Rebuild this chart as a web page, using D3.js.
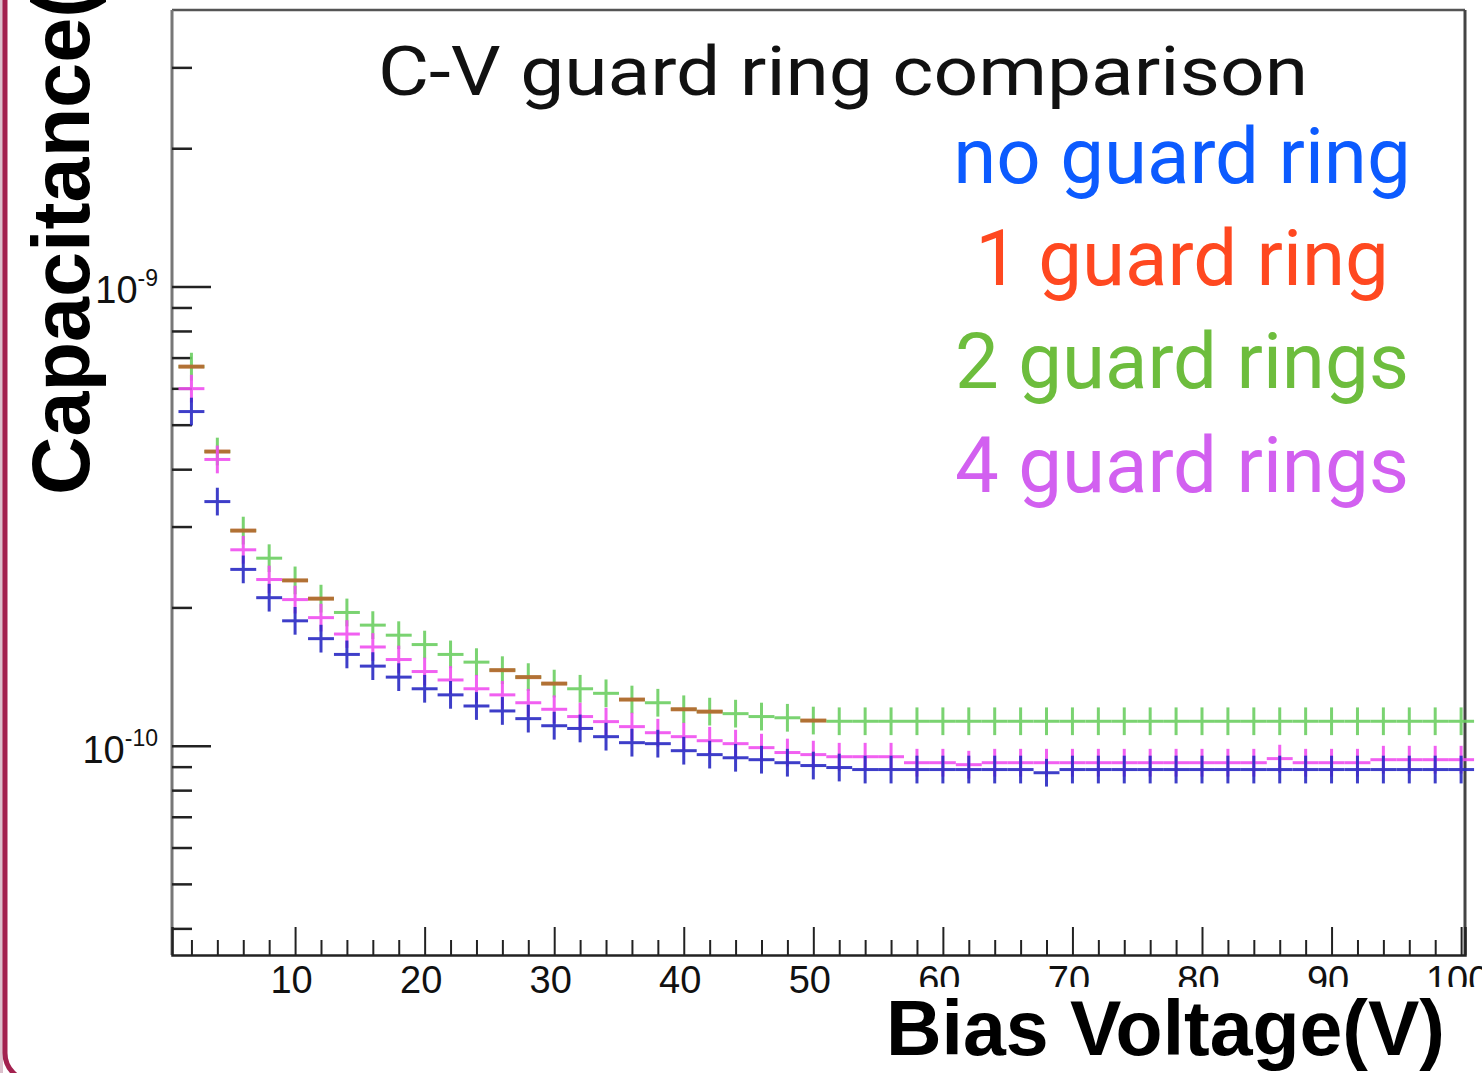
<!DOCTYPE html>
<html>
<head>
<meta charset="utf-8">
<script src="https://cdn.jsdelivr.net/npm/d3@7"></script>
<style>
body { margin: 0; background: #fff; overflow: hidden; }
svg { display: block; }
.root { font-family: "Liberation Sans", Arial, Helvetica, sans-serif; }
.slide { font-family: Roboto, "Noto Sans", sans-serif; }
</style>
</head>
<body>
<script>
// bias voltage of every measurement point (V)
var volts = [2,4,6,8,10,12,14,16,18,20,22,24,26,28,30,32,34,36,38,40,42,44,46,48,50,
             52,54,56,58,60,62,64,66,68,70,72,74,76,78,80,82,84,86,88,90,92,94,96,98,100];

// capacitance, in pF
var capNoRing = [534,340,242,210,187,171,158,149,141,133,129,122,119,114.5,110.5,109,104.6,101.5,101,97.5,95.6,94.1,93.2,91.8,90.5,
                 89.6,88.7,88.7,88.7,88.7,88.7,88.7,88.7,87.3,88.7,88.7,88.7,88.7,88.7,88.7,88.7,88.7,88.7,88.7,88.7,88.7,88.7,88.7,88.7,88.7];
var capTwoRings = [669,437,294,256,229,209,195,183,174,166,158,152,146,141,136.5,133,130,126,124,120,118.6,117.4,115.7,115,113.4,
                   113,113,113,113,113,113,113,113,113,113,113,113,113,113,113,113,113,113,113,113,113,113,113,113,113];
var capFourRings = [599,420,267,230,208,190,175,164,154,145,139,133,129,124,120,115.7,112.8,110,106.7,104.6,102.5,101,99,96.6,95.6,
                    94.6,94.6,94.6,91.8,91.8,90.9,91.8,91.8,91.8,91.8,91.8,91.8,91.8,91.8,91.8,91.8,91.8,93.7,91.8,91.8,91.8,93.2,93.2,93.2,93.2];
// 1 guard ring: only the points that stand out from under the 2-ring series
var voltsOneRing = [2,4,6,10,12,26,28,30,36,40,42,50];
var capOneRing = [669,437,294,229,209,146,141,136.5,126,120,118.6,113.4];

var xMajor = [10,20,30,40,50,60,70,80,90,100];
var xMinor = [2,4,6,8,12,14,16,18,22,24,26,28,32,34,36,38,42,44,46,48,52,54,56,58,62,64,66,68,72,74,76,78,82,84,86,88,92,94,96,98];
var yMajor = [1e-10, 1e-9];
var yMajorLabels = ["-10", "-9"];
var yMinor = [4e-11,5e-11,6e-11,7e-11,8e-11,9e-11,2e-10,3e-10,4e-10,5e-10,6e-10,7e-10,8e-10,9e-10,2e-9,3e-9];

var legendNames = ["no guard ring", "1 guard ring", "2 guard rings", "4 guard rings"];
var legendColors = ["#0c5bff", "#ff4820", "#6dbd3d", "#d260f0"];

var W = 1482, H = 1073;
var frame = {left: 172, top: 10, right: 1465, bottom: 955};
var relErr = 0.072;

var svg = d3.select("body").append("svg")
    .attr("width", W)
    .attr("height", H);

svg.append("rect").attr("width", W).attr("height", H).attr("fill", "#fff");

var x = d3.scaleLinear().domain([0.5, 100.3]).range([frame.left, frame.right]);
var y = d3.scaleLog().domain([3.5e-11, 4.0e-9]).range([frame.bottom, frame.top]);

// slide border on the left
svg.append("rect").attr("x", 0).attr("y", 0).attr("width", 3).attr("height", H).attr("fill", "#dcc0cc");
svg.append("rect")
    .attr("x", 5).attr("y", -60).attr("width", 2000).attr("height", 1141)
    .attr("rx", 28).attr("ry", 28)
    .attr("fill", "none").attr("stroke", "#a3214f").attr("stroke-width", 5);

// frame
svg.append("line").attr("x1", frame.left).attr("x2", frame.right).attr("y1", frame.top).attr("y2", frame.top)
    .attr("stroke", "#555").attr("stroke-width", 2.5);
svg.append("line").attr("x1", frame.right).attr("x2", frame.right).attr("y1", frame.top).attr("y2", frame.bottom)
    .attr("stroke", "#444").attr("stroke-width", 3);
svg.append("line").attr("x1", frame.left).attr("x2", frame.left).attr("y1", frame.top).attr("y2", frame.bottom)
    .attr("stroke", "#777").attr("stroke-width", 3);

// x axis, ticks pointing up into the frame
var gxMinor = svg.append("g").attr("transform", "translate(0," + frame.bottom + ")")
    .call(d3.axisBottom(x).tickValues(xMinor).tickSize(-15).tickFormat(""));
var gx = svg.append("g").attr("class", "root").attr("transform", "translate(0," + frame.bottom + ")")
    .call(d3.axisBottom(x).tickValues(xMajor).tickSize(-28).tickPadding(11).tickFormat(d3.format("d")));
gxMinor.selectAll(".domain").remove();
gx.selectAll(".domain").attr("stroke", "#222").attr("stroke-width", 2.5);
svg.selectAll(".tick line").attr("stroke", "#222").attr("stroke-width", 2);
gx.selectAll(".tick text").attr("fill", "#111").style("font-size", "38px").attr("dx", "-4");

// y axis, ticks pointing right into the frame
var gyMinor = svg.append("g").attr("transform", "translate(" + frame.left + ",0)")
    .call(d3.axisLeft(y).tickValues(yMinor).tickSize(-20).tickFormat(""));
var gy = svg.append("g").attr("transform", "translate(" + frame.left + ",0)")
    .call(d3.axisLeft(y).tickValues(yMajor).tickSize(-39).tickFormat(""));
gyMinor.selectAll(".domain").remove();
gy.selectAll(".domain").remove();
gyMinor.selectAll(".tick line").attr("stroke", "#222").attr("stroke-width", 2.5);
gy.selectAll(".tick line").attr("stroke", "#222").attr("stroke-width", 2.5);

var ylab = svg.append("g").attr("class", "root");
yMajor.forEach(function(v, i) {
  var t = ylab.append("text")
      .attr("x", 158).attr("y", y(v) + 17)
      .attr("text-anchor", "end").attr("fill", "#111")
      .style("font-size", "38px");
  t.append("tspan").text("10");
  t.append("tspan").attr("dy", -17).style("font-size", "23px").text(yMajorLabels[i]);
});

// points with error bars
function drawSeries(xs, vs, color, width, withVertical) {
  var g = svg.append("g").attr("stroke", color).attr("stroke-width", width).attr("opacity", 0.9);
  xs.forEach(function(xv, i) {
    var c = vs[i] * 1e-12;
    g.append("line")
        .attr("x1", x(xv - 1)).attr("x2", x(xv + 1))
        .attr("y1", y(c)).attr("y2", y(c));
    if (withVertical) {
      g.append("line")
          .attr("x1", x(xv)).attr("x2", x(xv))
          .attr("y1", y(c * (1 + relErr))).attr("y2", y(c / (1 + relErr)));
    }
  });
}
drawSeries(volts, capTwoRings, "#6ccf62", 3, true);
drawSeries(voltsOneRing, capOneRing, "#b8672e", 4, false);
drawSeries(volts, capFourRings, "#f04ff0", 3, true);
drawSeries(volts, capNoRing, "#2a2ac4", 3, true);

// title and legend text
svg.append("text").attr("class", "slide")
    .attr("x", 843).attr("y", 95)
    .attr("text-anchor", "middle").attr("fill", "#111")
    .attr("textLength", 930).attr("lengthAdjust", "spacingAndGlyphs")
    .style("font-size", "68px")
    .text("C-V guard ring comparison");

var legendY = [183, 285, 388, 492];
svg.selectAll(".leg").data(legendNames).enter().append("text")
    .attr("class", "slide leg")
    .attr("x", 1182).attr("y", function(d, i) { return legendY[i]; })
    .attr("text-anchor", "middle")
    .attr("fill", function(d, i) { return legendColors[i]; })
    .style("font-size", "78px")
    .text(function(d) { return d; });

// axis titles
svg.append("text").attr("class", "root")
    .attr("transform", "translate(89,495) rotate(-90)")
    .attr("fill", "#000").style("font-size", "81px").style("font-weight", "bold")
    .text("Capacitance(F)");

svg.append("rect").attr("x", 850).attr("y", 987).attr("width", W - 850).attr("height", H - 987).attr("fill", "#fff");
svg.append("text").attr("class", "root")
    .attr("x", 1445).attr("y", 1055)
    .attr("text-anchor", "end")
    .attr("fill", "#000").style("font-size", "77px").style("font-weight", "bold")
    .text("Bias Voltage(V)");
</script>
</body>
</html>
